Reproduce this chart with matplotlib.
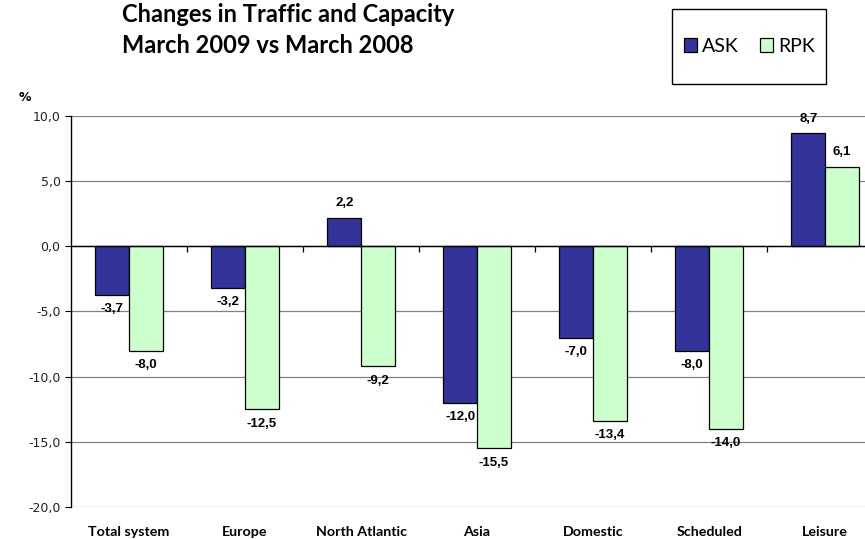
import numpy as np
import matplotlib.pyplot as plt
from matplotlib.patches import Rectangle

# --- data ---
categories = ['Total system', 'Europe', 'North Atlantic', 'Asia',
              'Domestic', 'Scheduled', 'Leisure']
ask = [-3.7, -3.2, 2.2, -12.0, -7.0, -8.0, 8.7]
rpk = [-8.0, -12.5, -9.2, -15.5, -13.4, -14.0, 6.1]
yticks = [10, 5, 0, -5, -10, -15, -20]

ask_color = '#333399'
rpk_color = '#CCFFCC'

fig = plt.figure(figsize=(8.65, 5.39), dpi=100)
ax = fig.add_axes([0.082, 0.0594, 0.939, 0.7254])

x = np.arange(len(categories))
w = 0.29
b1 = ax.bar(x - w / 2, ask, w, color=ask_color, edgecolor='black', linewidth=0.9, zorder=3, label='ASK')
b2 = ax.bar(x + w / 2, rpk, w, color=rpk_color, edgecolor='black', linewidth=0.9, zorder=3, label='RPK')

def fmt(v):
    return f'{v:.1f}'.replace('.', ',')

for bars, vals in ((b1, ask), (b2, rpk)):
    ax.bar_label(bars, labels=[fmt(v) for v in vals], padding=6,
                 fontsize=9.5, fontweight='bold', family='Liberation Sans')

ax.set_xlim(-0.5, len(categories) - 0.5)
ax.set_ylim(-20, 10)
ax.set_yticks(yticks)
ax.set_yticklabels([fmt(v) for v in yticks], fontsize=9, color='#222222')
ax.yaxis.grid(True, color='#808080', linewidth=0.9, zorder=0)
ax.axhline(0, color='black', linewidth=1.0, zorder=4)
ax.vlines(x[:-1] + 0.5, -0.4, 0, color='black', linewidth=0.9, zorder=4)

ax.set_xticks(x)
ax.set_xticklabels(categories, fontsize=10.3, fontweight='bold', family='Lato')
ax.tick_params(axis='x', length=0, pad=14)
ax.tick_params(axis='y', length=4, direction='out')

for s in ['top', 'right', 'bottom']:
    ax.spines[s].set_visible(False)
ax.spines['left'].set_linewidth(1.0)

fig.text(0.022, 0.812, '%', fontsize=9, fontweight='bold')
fig.text(0.141, 0.973, 'Changes in Traffic and Capacity', fontsize=17, fontweight='bold',
         family='Lato', va='center')
fig.text(0.141, 0.916, 'March 2009 vs March 2008', fontsize=17, fontweight='bold',
         family='Lato', va='center')

# legend box drawn separately so its padding matches the reference
fig.patches.append(Rectangle((0.777, 0.844), 0.178, 0.139, transform=fig.transFigure,
                             facecolor='white', edgecolor='black', linewidth=1.0))
leg = fig.legend(handles=[b1, b2], loc='center', bbox_to_anchor=(0.866, 0.914),
                 ncol=2, frameon=False, handlelength=0.67, handleheight=0.67,
                 handletextpad=0.26, columnspacing=1.1, prop={'family': 'Lato', 'size': 14})

fig.savefig('out.png', dpi=100)
